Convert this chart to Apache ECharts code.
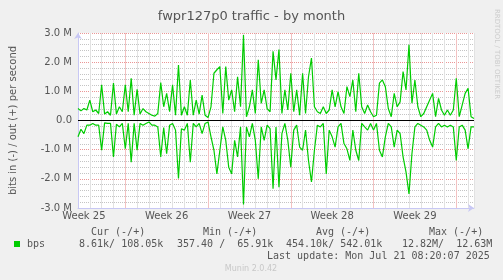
<!DOCTYPE html>
<html>
<head>
<meta charset="utf-8">
<script src="https://cdn.jsdelivr.net/npm/echarts@6/dist/echarts.min.js"></script>
<style>
  html, body { margin: 0; padding: 0; background: #f0f0f0; }
  #chart { width: 503px; height: 280px; }
</style>
</head>
<body>
<div id="chart"></div>
<script>
  // samples every 6 hours, day 0 = start of week 26
  var startDay = -4;
  var stepDay = 0.25;

  // out (+), Mbit/s
  var outBps = [
    0.41, 0.33, 0.41, 0.36, 0.70, 0.30, 0.36, 0.24, 1.22, 0.22,
    0.30, 0.18, 1.28, 0.22, 0.47, 0.30, 1.22, 0.30, 1.45, 0.18,
    1.07, 0.22, 0.41, 0.30, 0.24, 0.18, 0.15, 0.24, 1.30, 0.47,
    0.93, 0.30, 1.22, 0.18, 1.90, 0.18, 0.47, 0.18, 1.39, 0.18,
    0.70, 0.22, 0.87, 0.18, 0.10, 0.47, 1.62, 1.74, 1.85, 0.24,
    1.85, 0.70, 1.05, 0.30, 1.50, 0.47, 2.93, 0.13, 0.47, 1.05,
    0.24, 2.08, 0.59, 1.05, 0.41, 0.30, 2.37, 1.39, 2.43, 0.24,
    1.05, 0.36, 1.62, 0.30, 1.05, 0.18, 1.62, 0.24, 1.50, 2.14,
    0.47, 0.30, 0.24, 0.47, 0.24, 0.36, 1.05, 0.47, 0.99, 0.47,
    0.24, 1.16, 0.82, 1.39, 0.30, 1.62, 0.47, 0.24, 0.53, 0.30,
    0.13, 0.18, 1.28, 1.39, 1.16, 0.41, 0.13, 0.93, 0.47, 0.64,
    1.68, 1.05, 2.60, 0.59, 1.39, 0.47, 0.13, 0.24, 0.47, 0.70,
    0.93, 0.13, 0.76, 0.36, 0.18, 0.36, 0.18, 0.36, 1.45, 0.13,
    0.53, 0.93, 1.10, 0.13, 0.07
  ];

  // in (-), Mbit/s
  var inBps = [
    -0.56, -0.30, -0.45, -0.16, -0.16, -0.10, -0.16, -0.16, -1.02, -0.08,
    -0.10, -0.10, -1.25, -0.13, -0.22, -0.10, -0.97, -0.10, -1.43, -0.10,
    -1.02, -0.10, -0.16, -0.10, -0.05, -0.16, -0.16, -0.22, -1.25, -0.24,
    -1.14, -0.16, -0.10, -0.33, -1.99, -0.28, -0.33, -0.10, -1.43, -0.10,
    -0.22, -0.10, -0.45, -0.10, -0.05, -0.56, -1.02, -1.83, -1.02, -0.22,
    -0.68, -1.60, -1.83, -0.68, -1.25, -0.22, -2.88, -0.22, -0.56, -0.10,
    -0.68, -2.00, -0.22, -0.68, -0.16, -0.28, -2.34, -0.22, -2.29, -0.45,
    -0.10, -0.68, -1.60, -0.33, -0.16, -0.91, -1.02, -0.33, -1.37, -2.11,
    -1.02, -0.16, -0.22, -0.10, -1.83, -0.33, -0.56, -0.91, -0.22, -0.10,
    -0.79, -0.97, -1.37, -0.33, -1.02, -1.37, -0.10, -0.22, -0.33, -0.10,
    -0.33, -0.10, -1.02, -1.25, -0.56, -0.10, -0.22, -0.91, -0.33, -0.45,
    -1.25, -1.77, -2.52, -1.14, -0.22, -0.10, -0.16, -0.22, -0.33, -0.68,
    -0.91, -0.22, -0.10, -0.22, -0.16, -0.22, -0.16, -0.22, -1.37, -0.22,
    -0.16, -0.33, -0.97, -0.22, -0.22
  ];

  var weekLabels = ['Week 25', 'Week 26', 'Week 27', 'Week 28', 'Week 29'];
  var weekLabelDays = [-3.5, 3.5, 10.5, 17.5, 24.5];
  var weekStartDays = [0, 7, 14, 21, 28];

  var legendHeads = ['Cur (-/+)', 'Min (-/+)', 'Avg (-/+)', 'Max (-/+)'];
  var legendVals = ['8.61k/ 108.05k', '357.40 /  65.91k', '454.10k/ 542.01k', '12.82M/  12.63M'];
  var lastUpdate = 'Last update: Mon Jul 21 08:20:07 2025';

  var outData = outBps.map(function (v, i) { return [startDay + i * stepDay, v]; });
  var inData = inBps.map(function (v, i) { return [startDay + i * stepDay, v]; });

  var txt = '#555';
  var grey = '#c4c4c4';
  var red = '#eb9696';
  var mono = 'DejaVu Sans Mono';

  var dom = document.getElementById('chart');
  var myChart = echarts.init(dom, null, { renderer: 'canvas' });

  var graphics = [
    { type: 'rect', shape: { x: 14, y: 241, width: 6, height: 6 }, style: { fill: '#00cc00' } },
    { type: 'text', x: 27, y: 244, style: { text: 'bps', font: '10px ' + mono, fill: txt, verticalAlign: 'middle' } },
    { type: 'text', x: 267, y: 256, style: { text: lastUpdate, font: '10px ' + mono, fill: txt, verticalAlign: 'middle' } },
    { type: 'text', x: 251, y: 269, style: { text: 'Munin 2.0.42', font: '8px DejaVu Sans', fill: '#c8c8c8', align: 'center', verticalAlign: 'middle' } },
    { type: 'text', x: 497, y: 54, rotation: -Math.PI / 2,
      style: { text: 'RRDTOOL / TOBI OETIKER', font: '7px DejaVu Sans', fill: '#cccccc', align: 'center', verticalAlign: 'middle' } }
  ];
  var headX = [91, 203, 316, 429];
  var valX = [79, 177, 286, 402];
  legendHeads.forEach(function (h, i) {
    graphics.push({ type: 'text', x: headX[i], y: 232, style: { text: h, font: '10px ' + mono, fill: txt, verticalAlign: 'middle' } });
    graphics.push({ type: 'text', x: valX[i], y: 244, style: { text: legendVals[i], font: '10px ' + mono, fill: txt, verticalAlign: 'middle' } });
  });

  var option = {
    animation: false,
    backgroundColor: '#f0f0f0',
    title: {
      text: 'fwpr127p0 traffic - by month',
      left: 'center',
      top: 5,
      textStyle: { fontFamily: 'DejaVu Sans', fontSize: 13, fontWeight: 'normal', color: txt }
    },
    grid: { left: 72, top: 33, width: 402, height: 175, show: true, backgroundColor: '#ffffff', borderWidth: 0 },
    xAxis: [
      {
        // day grid
        type: 'value',
        min: -4,
        max: 29.5,
        interval: 1,
        position: 'bottom',
        axisLine: { show: true, onZero: false, lineStyle: { color: '#c8c8f4' }, symbol: ['none', 'arrow'], symbolSize: [6, 6] },
        axisTick: { show: false },
        axisLabel: { show: false },
        splitLine: { show: true, lineStyle: { color: '#e2e2e2', type: 'solid', width: 1 } }
      },
      {
        // week boundaries and week labels
        type: 'value',
        min: -4,
        max: 29.5,
        position: 'bottom',
        axisLine: { show: false, onZero: false },
        axisTick: { show: false, customValues: weekStartDays },
        axisLabel: {
          customValues: weekLabelDays,
          formatter: function (v) {
            var k = weekLabelDays.indexOf(v);
            return k >= 0 ? weekLabels[k] : '';
          },
          color: txt, fontFamily: 'DejaVu Sans', fontSize: 10, margin: 3
        },
        splitLine: { show: true, lineStyle: { color: '#f3c2c2', type: 'solid', width: 1 } }
      }
    ],
    yAxis: {
      type: 'value',
      min: -3,
      max: 3,
      interval: 1,
      name: 'bits in (-) / out (+) per second',
      nameLocation: 'middle',
      nameGap: 60,
      nameTextStyle: { color: txt, fontFamily: 'DejaVu Sans', fontSize: 10 },
      axisLine: { show: true, onZero: false, lineStyle: { color: '#c8c8f4' }, symbol: ['none', 'arrow'], symbolSize: [6, 6] },
      axisTick: { show: false },
      axisLabel: {
        formatter: function (v) { return v === 0 ? '0.0' : v.toFixed(1) + ' M'; },
        color: txt, fontFamily: 'DejaVu Sans', fontSize: 10, margin: 6
      },
      splitLine: { show: true, lineStyle: { color: red, type: 'dotted', width: 1 } },
      minorTick: { show: false, splitNumber: 5 },
      minorSplitLine: { show: true, lineStyle: { color: grey, type: 'dotted', width: 1 } }
    },
    series: [
      {
        name: 'in',
        type: 'line',
        xAxisIndex: 0,
        data: inData,
        showSymbol: false,
        lineStyle: { color: '#00cc00', width: 1.2 },
        itemStyle: { color: '#00cc00' },
        z: 3
      },
      {
        name: 'out',
        type: 'line',
        xAxisIndex: 0,
        data: outData,
        showSymbol: false,
        lineStyle: { color: '#00cc00', width: 1.2 },
        itemStyle: { color: '#00cc00' },
        z: 3,
        markLine: {
          silent: true,
          symbol: ['none', 'none'],
          label: { show: false },
          lineStyle: { color: '#000000', type: 'solid', width: 1 },
          data: [{ yAxis: 0 }]
        }
      }
    ],
    graphic: graphics
  };

  if (option && typeof option === 'object') {
    myChart.setOption(option, true);
  }
</script>
</body>
</html>
